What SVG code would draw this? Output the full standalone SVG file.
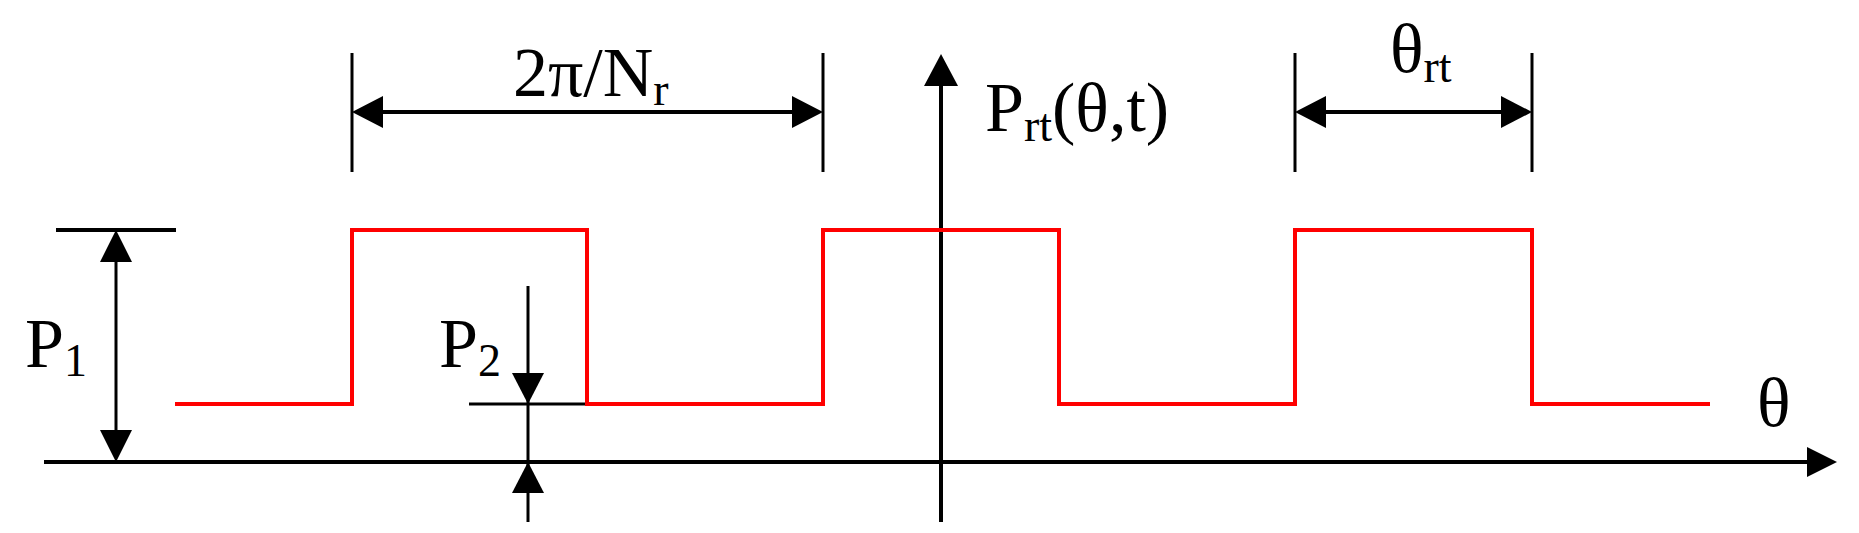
<svg xmlns="http://www.w3.org/2000/svg" width="1859" height="533" viewBox="0 0 1859 533">
<style>
.k{stroke:#000;stroke-width:4;fill:none}
.t{stroke:#000;stroke-width:3;fill:none}
.r{stroke:#f00;stroke-width:4;fill:none}
.a{fill:#000}
text{font-family:"Liberation Serif",serif;fill:#000}
.m{font-size:70px}
.s{font-size:46px}
</style>
<g id="connectors">
<line class="k" x1="44" y1="462" x2="1810" y2="462"/>
<polygon class="a" points="1837,462 1807,447 1807,477"/>
<line class="k" x1="941" y1="522" x2="941" y2="80"/>
<polygon class="a" points="941,54 924,86 958,86"/>
<line class="t" x1="352" y1="53" x2="352" y2="172"/>
<line class="t" x1="823" y1="53" x2="823" y2="172"/>
<line class="k" x1="380" y1="112" x2="795" y2="112"/>
<polygon class="a" points="352,112 383,96 383,128"/>
<polygon class="a" points="823,112 792,96 792,128"/>
<line class="t" x1="1295" y1="53" x2="1295" y2="172"/>
<line class="t" x1="1532" y1="53" x2="1532" y2="172"/>
<line class="k" x1="1323" y1="112" x2="1504" y2="112"/>
<polygon class="a" points="1295,112 1326,96 1326,128"/>
<polygon class="a" points="1532,112 1501,96 1501,128"/>
<line class="k" x1="56" y1="230" x2="176" y2="230"/>
<line class="t" x1="116" y1="258" x2="116" y2="434"/>
<polygon class="a" points="116,230 100,262 132,262"/>
<polygon class="a" points="116,462 100,430 132,430"/>
<line class="t" x1="528" y1="286" x2="528" y2="522"/>
<polygon class="a" points="528,404 512,373 544,373"/>
<polygon class="a" points="528,462 512,493 544,493"/>
<line class="t" x1="469" y1="404" x2="590" y2="404"/>
</g>
<g id="signal">
<polyline class="r" points="175,404 352,404 352,230 587,230 587,404 823,404 823,230 1059,230 1059,404 1295,404 1295,230 1532,230 1532,404 1710,404"/>
</g>
<g id="labels">
<text class="m" x="513" y="96">2π/N<tspan class="s" dy="9">r</tspan></text>
<text class="m" x="1390" y="72">θ<tspan class="s" dy="10">rt</tspan></text>
<text class="m" x="985" y="131">P<tspan class="s" dy="10">rt</tspan><tspan dy="-10">(θ,t)</tspan></text>
<text class="m" x="1757" y="426">θ</text>
<text class="m" x="25" y="367">P<tspan class="s" dy="9">1</tspan></text>
<text class="m" x="439" y="367">P<tspan class="s" dy="9">2</tspan></text>
</g>
</svg>
